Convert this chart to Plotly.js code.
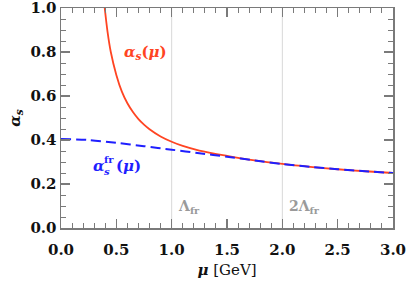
<!DOCTYPE html>
<html>
<head>
<meta charset="utf-8">
<script src="https://cdn.plot.ly/plotly-3.0.1.min.js"></script>
<style>html,body{margin:0;padding:0;background:#fff;}#chart{width:407px;height:283px;}</style>
</head>
<body>
<div id="chart"></div>
<script>
// running coupling alpha_s(mu)
const muRun = [0.395, 0.42, 0.45, 0.50, 0.55, 0.60, 0.65, 0.70, 0.75, 0.80, 0.90, 1.00, 1.10, 1.25, 1.50, 1.75, 2.00, 2.25, 2.50, 2.75, 3.00];
const alphaRun = [1.000, 0.894, 0.800, 0.696, 0.620, 0.567, 0.527, 0.495, 0.470, 0.449, 0.416, 0.392, 0.373, 0.352, 0.328, 0.307, 0.291, 0.278, 0.267, 0.258, 0.250];
// freezing coupling alpha_s^fr(mu)
const muFr = [0.0, 0.25, 0.50, 0.75, 1.00, 1.25, 1.50, 1.75, 2.00, 2.25, 2.50, 2.75, 3.00];
const alphaFr = [0.405, 0.400, 0.387, 0.372, 0.356, 0.340, 0.324, 0.307, 0.291, 0.278, 0.267, 0.258, 0.250];
// axis ticks
const xTicks = [0.0, 0.5, 1.0, 1.5, 2.0, 2.5, 3.0];
const xTickText = ["0.0", "0.5", "1.0", "1.5", "2.0", "2.5", "3.0"];
const yTicks = [0.0, 0.2, 0.4, 0.6, 0.8, 1.0];
const yTickText = ["0.0", "0.2", "0.4", "0.6", "0.8", "1.0"];
// reference lines
const refLines = [1.0, 2.0];
const refLabels = ["<b>Λ<sub>fr</sub></b>", "<b>2Λ<sub>fr</sub></b>"];

const serif = "DejaVu Serif";
const axisCol = "#7a7a7a";
const red = "#ff4422";
const blue = "#1f1fff";

const traces = [
  {x: muRun, y: alphaRun, mode: "lines", line: {color: red, width: 1.8, shape: "spline", smoothing: 0.8}, hoverinfo: "skip"},
  {x: muFr, y: alphaFr, mode: "lines", line: {color: blue, width: 2, dash: "10px,5px", shape: "spline", smoothing: 0.8}, hoverinfo: "skip"}
];

const shapes = refLines.map(v => ({type: "line", xref: "x", yref: "paper", x0: v, x1: v, y0: 0, y1: 1, line: {color: "#d8d8d8", width: 1}, layer: "below"}));

const frX = 0.27, frY = 0.28;
const annotations = [
  {x: 0.55, y: 0.80, xref: "x", yref: "y", xanchor: "left", yanchor: "middle", showarrow: false,
   text: "<b><i>α<sub>s</sub></i>(<i>μ</i>)</b>", font: {family: serif, size: 15, color: red}},
  {x: frX, y: frY, xref: "x", yref: "y", xanchor: "left", yanchor: "middle", showarrow: false,
   text: "<b><i>α</i></b>", font: {family: serif, size: 15, color: blue}},
  {x: frX, y: frY, xref: "x", yref: "y", xanchor: "left", yanchor: "middle", showarrow: false, xshift: 11, yshift: -5,
   text: "<b><i>s</i></b>", font: {family: serif, size: 10, color: blue}},
  {x: frX, y: frY, xref: "x", yref: "y", xanchor: "left", yanchor: "middle", showarrow: false, xshift: 11, yshift: 7,
   text: "<b>fr</b>", font: {family: serif, size: 10, color: blue}},
  {x: frX, y: frY, xref: "x", yref: "y", xanchor: "left", yanchor: "middle", showarrow: false, xshift: 23,
   text: "<b>(<i>μ</i>)</b>", font: {family: serif, size: 15, color: blue}}
].concat(refLines.map((v, i) => ({x: v + 0.04, y: 0.095, xref: "x", yref: "y", xanchor: "left", yanchor: "middle", showarrow: false,
   text: refLabels[i], font: {family: serif, size: 14, color: "#9a9a9a"}})));

const layout = {
  width: 407, height: 283,
  margin: {l: 61, r: 14, t: 8, b: 55},
  paper_bgcolor: "#fff", plot_bgcolor: "#fff",
  showlegend: false,
  xaxis: {range: [0, 3], tickmode: "array", tickvals: xTicks, ticktext: xTickText, showgrid: false, zeroline: false,
    showline: true, mirror: "ticks", linecolor: axisCol, linewidth: 1.5,
    ticks: "inside", ticklen: 9, tickwidth: 1.2, tickcolor: axisCol, ticklabelstandoff: 7, ticklabeloverflow: "allow",
    minor: {dtick: 0.1, tick0: 0, ticks: "inside", ticklen: 5, tickwidth: 1, tickcolor: axisCol, showgrid: false},
    tickfont: {family: serif, size: 15, color: "#111", weight: "bold"},
    title: {text: "<b><i>μ</i></b> [GeV]", font: {family: serif, size: 15, color: "#111"}, standoff: 7}},
  yaxis: {range: [0, 1], tickmode: "array", tickvals: yTicks, ticktext: yTickText, showgrid: false, zeroline: false,
    showline: true, mirror: "ticks", linecolor: axisCol, linewidth: 1.5, ticklabeloverflow: "allow",
    ticks: "inside", ticklen: 9, tickwidth: 1.2, tickcolor: axisCol,
    minor: {dtick: 0.05, tick0: 0, ticks: "inside", ticklen: 5, tickwidth: 1, tickcolor: axisCol, showgrid: false},
    tickfont: {family: serif, size: 15, color: "#111", weight: "bold"},
    title: {text: "<b><i>α<sub>s</sub></i></b>", font: {family: serif, size: 15, color: "#111"}, standoff: 6}},
  shapes: shapes,
  annotations: annotations
};

Plotly.newPlot("chart", traces, layout, {displayModeBar: false, staticPlot: true});
</script>
</body>
</html>
